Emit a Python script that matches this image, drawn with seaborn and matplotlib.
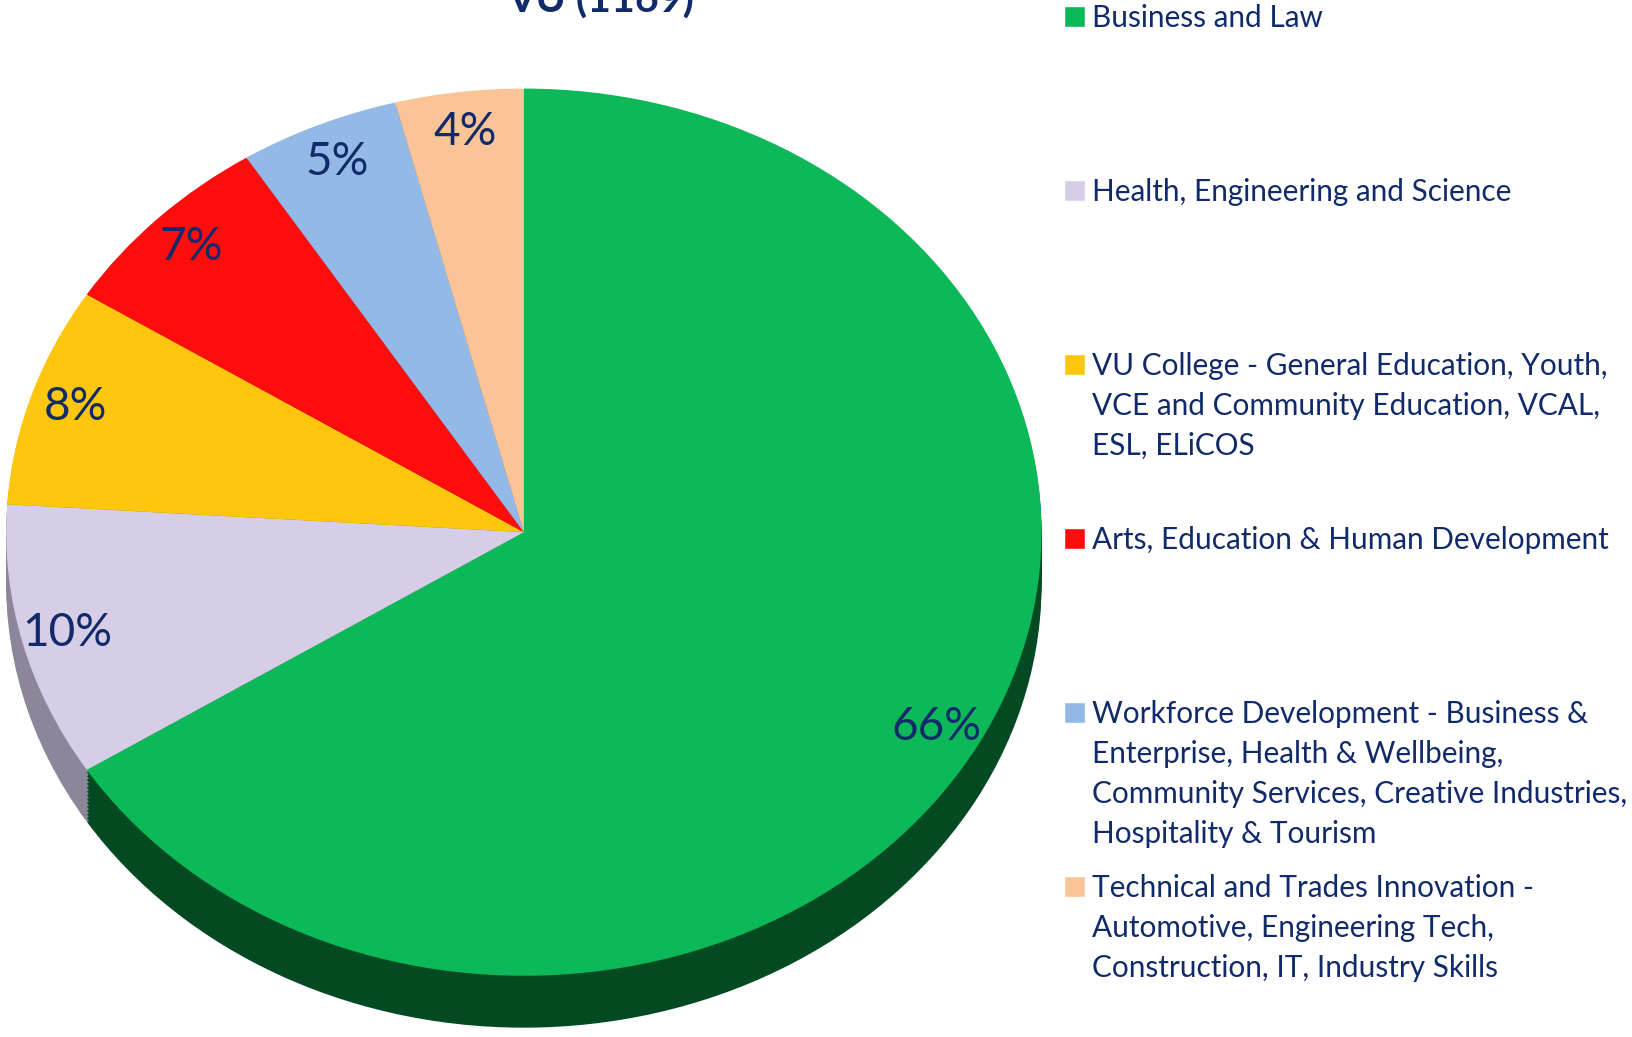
import numpy as np
import matplotlib
matplotlib.use('Agg')
import matplotlib.pyplot as plt
from matplotlib.patches import Patch
import seaborn as sns

# data
title = 'VU (1169)'
schools = [
    'Business and Law',
    'Health, Engineering and Science',
    'VU College - General Education, Youth,\nVCE and Community Education, VCAL,\nESL, ELiCOS',
    'Arts, Education & Human Development',
    'Workforce Development - Business &\nEnterprise, Health & Wellbeing,\nCommunity Services, Creative Industries,\nHospitality & Tourism',
    'Technical and Trades Innovation -\nAutomotive, Engineering Tech,\nConstruction, IT, Industry Skills',
]
share = [66, 10, 8, 7, 5, 4]

top_colors = ['#0cb858', '#d6cde6', '#fec60c', '#ff0d0d', '#95b9e7', '#fbc496']
side_colors = ['#034a22', '#8c869a', '#a07c05', '#9c0808', '#5c7496', '#a07a5c']
navy = '#112a6a'

sns.set_theme(style='white')
plt.rcParams['font.family'] = ['Lato', 'DejaVu Sans']

fig = plt.figure(figsize=(16.33, 10.37), dpi=100)
ax = fig.add_axes([0.0038, 0.009, 0.634, 0.9056])

# thickness of the disc, drawn as stacked darker pies
depth = 0.117
for d in np.linspace(depth, 0.005, 14):
    ax.pie(share, colors=side_colors, startangle=90, counterclock=False,
           center=(0, -d), wedgeprops=dict(linewidth=0))

wedges, _, autotexts = ax.pie(
    share, colors=top_colors, startangle=90, counterclock=False,
    autopct=lambda p: '%d%%' % round(p), pctdistance=0.91,
    wedgeprops=dict(linewidth=0),
    textprops=dict(color=navy, fontsize=33))

ax.set_aspect('auto')
ax.set_xlim(-1, 1)
ax.set_ylim(-1 - depth, 1)
ax.axis('off')

fig.text(0.368, 1 - 13 / 1037, title, ha='center', va='baseline',
         fontsize=29.5, fontweight='bold', color=navy)

# one small legend per school, on a fixed pitch like the original;
# the marker sits beside the first line only
pitch = 174 / 1037
blank = Patch(facecolor='none', edgecolor='none')
for i, (name, w) in enumerate(zip(schools, wedges)):
    lines = name.split('\n')
    handles = [Patch(facecolor=w.get_facecolor())] + [blank] * (len(lines) - 1)
    leg = fig.legend(handles, lines, loc='upper left',
                     bbox_to_anchor=(1064 / 1633, 1 - 4 / 1037 - i * pitch),
                     frameon=False, fontsize=21.4, handlelength=0.7,
                     handleheight=0.7, handletextpad=0.25, labelspacing=0.4,
                     borderaxespad=0, borderpad=0)
    for t in leg.get_texts():
        t.set_color(navy)

fig.savefig('out.png', dpi=100)
